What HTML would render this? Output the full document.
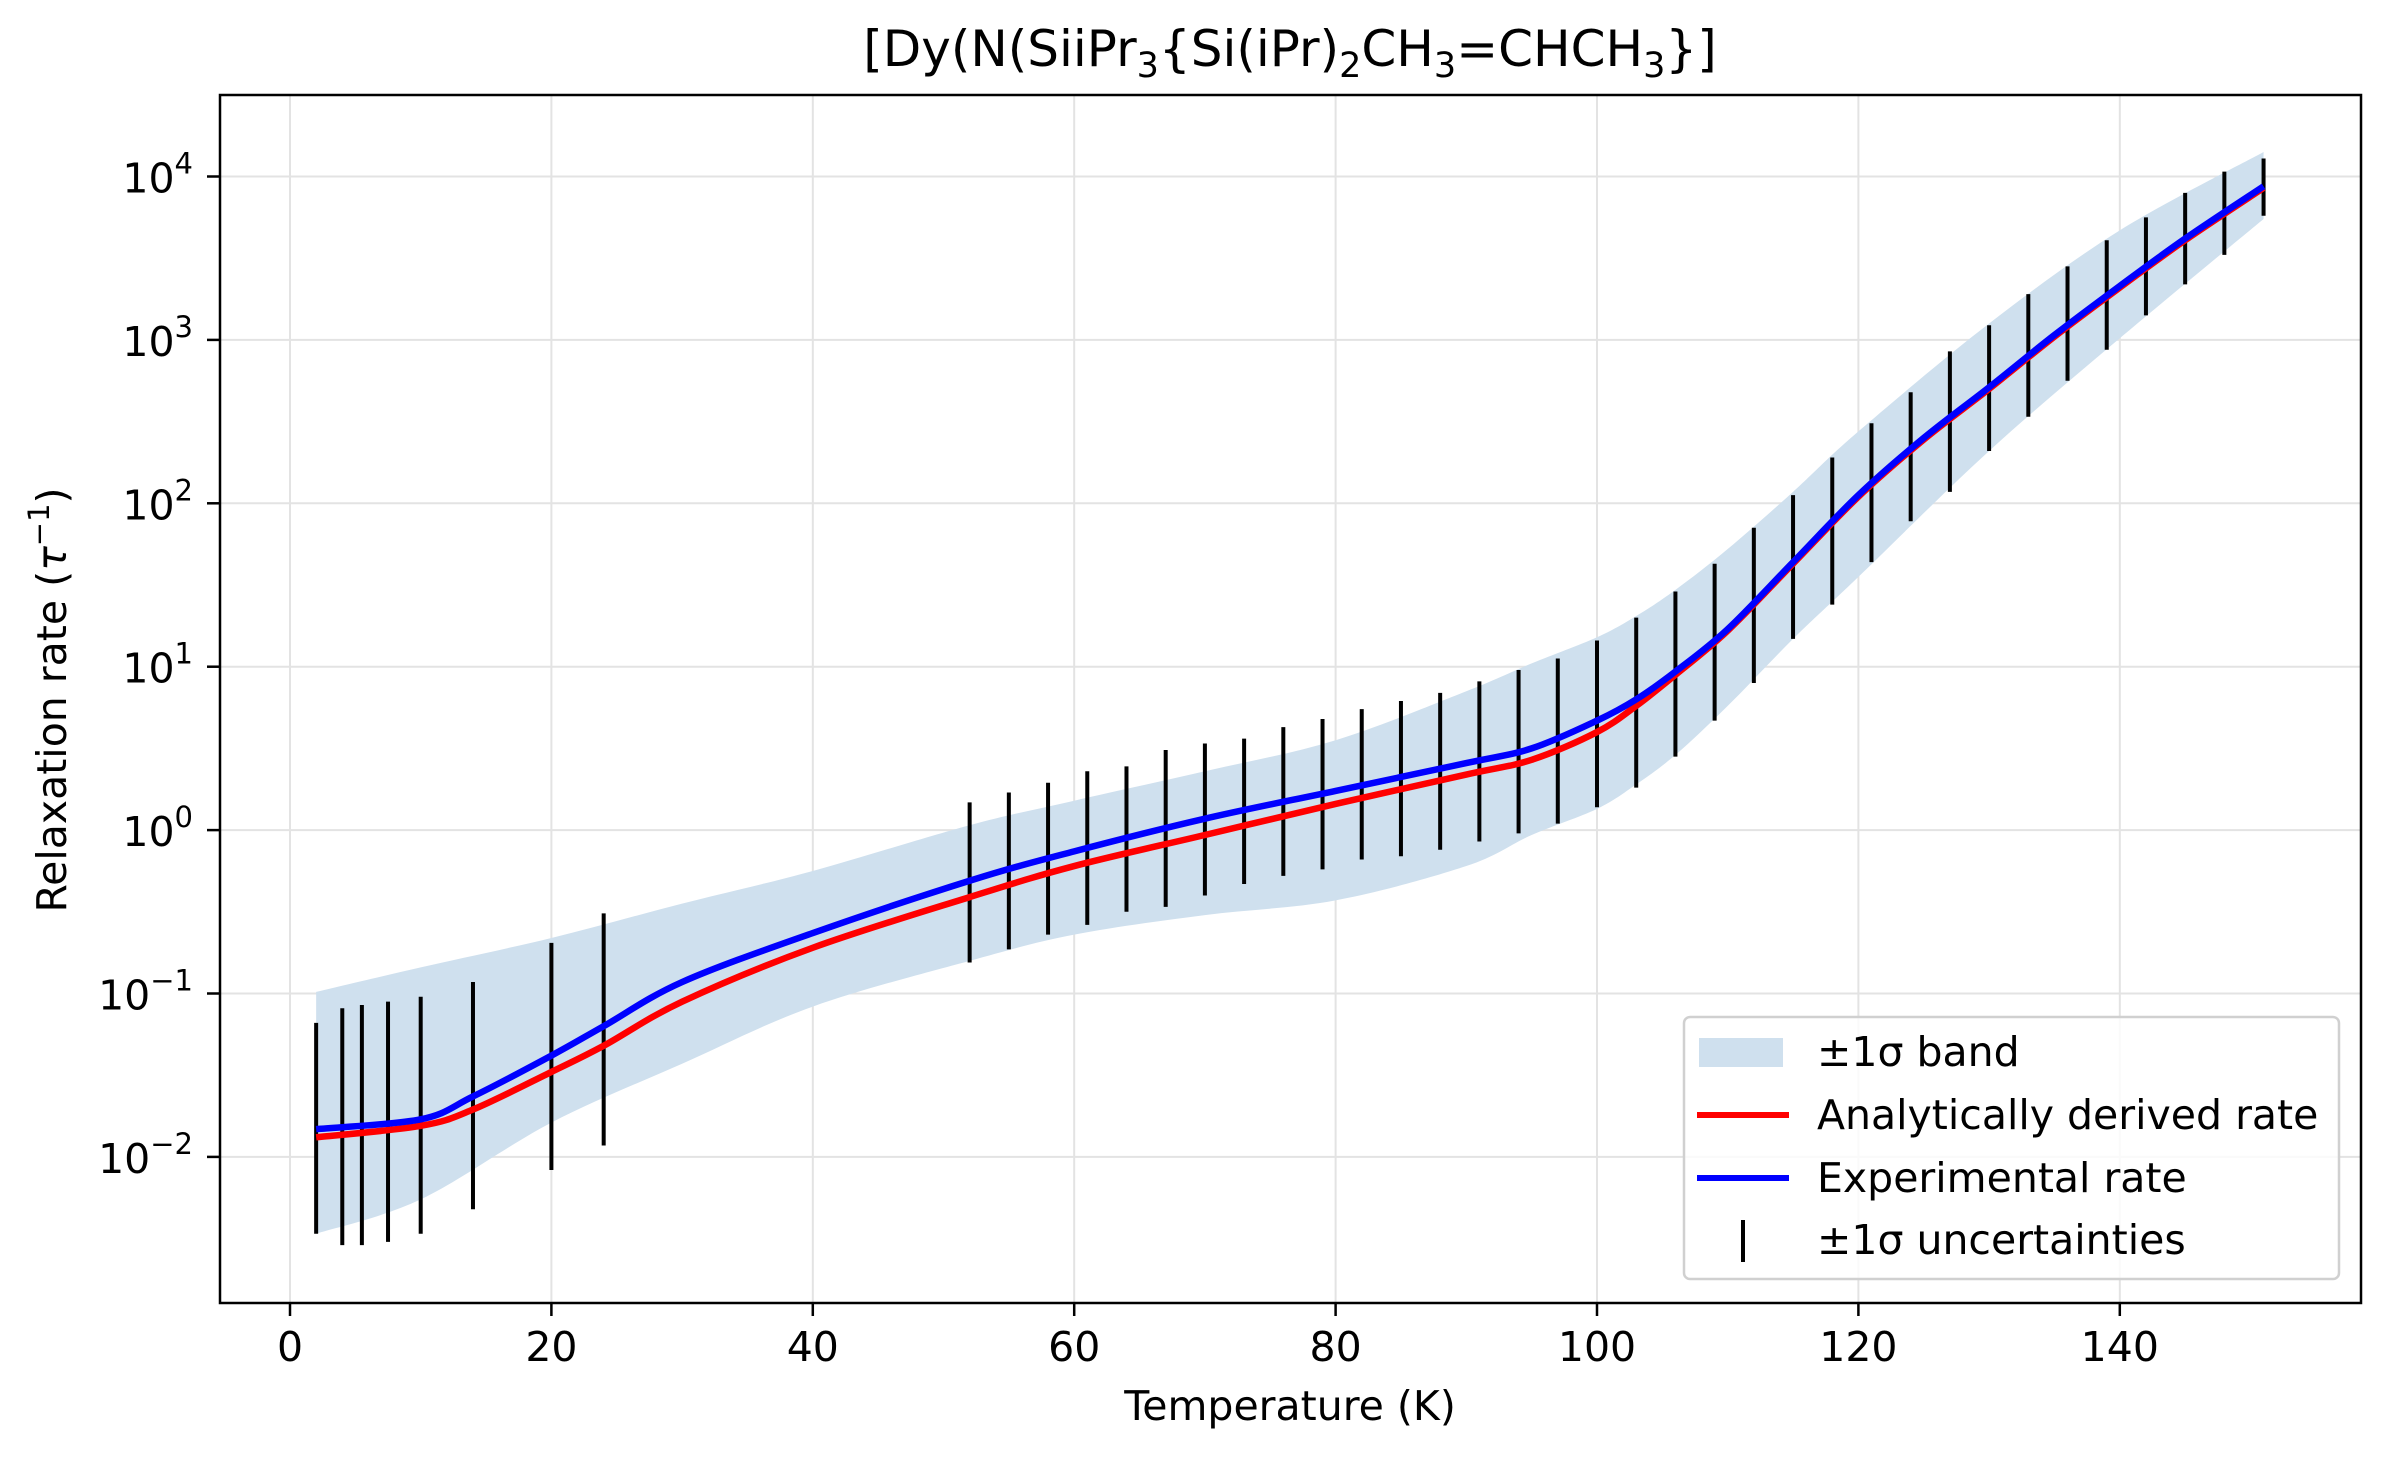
<!DOCTYPE html>
<html><head><meta charset="utf-8"><style>
html,body{margin:0;padding:0;background:#fff}
svg{display:block;font-family:"DejaVu Sans","Liberation Sans",sans-serif}
</style></head><body>
<svg id="chart" width="2392" height="1462" viewBox="0 0 2392 1462" xmlns="http://www.w3.org/2000/svg">
<rect width="2392" height="1462" fill="#fff"/>
<g id="grid"></g>
<g id="band"></g>
<g id="errs"></g>
<g id="lines"></g>
<rect x="220" y="95" width="2141" height="1208" fill="none" stroke="#000" stroke-width="2.5"/>
<g id="ticks" font-size="41"></g>
<text x="1290" y="66" text-anchor="middle" font-size="50">[Dy(N(SiiPr<tspan font-size="35" dy="11">3</tspan><tspan dy="-11">{Si(iPr)</tspan><tspan font-size="35" dy="11">2</tspan><tspan dy="-11">CH</tspan><tspan font-size="35" dy="11">3</tspan><tspan dy="-11">=CHCH</tspan><tspan font-size="35" dy="11">3</tspan><tspan dy="-11">}]</tspan></text>
<text x="1290" y="1420" text-anchor="middle" font-size="41">Temperature (K)</text>
<text transform="translate(66,700) rotate(-90)" text-anchor="middle" font-size="41">Relaxation rate (<tspan font-style="italic">τ</tspan><tspan font-size="29" dy="-17">−1</tspan><tspan dy="17">)</tspan></text>
<g>
<rect x="1684" y="1017" width="655" height="262" rx="6" fill="#fff" fill-opacity="0.8" stroke="#d0d0d0" stroke-width="2.5"/>
<rect x="1699" y="1038" width="84" height="29" fill="#cfe0ee"/>
<text x="1817" y="1066" font-size="41">±1σ band</text>
<line x1="1697" y1="1115" x2="1789" y2="1115" stroke="#f00" stroke-width="6"/>
<text x="1817" y="1129" font-size="41">Analytically derived rate</text>
<line x1="1697" y1="1178" x2="1789" y2="1178" stroke="#00f" stroke-width="6"/>
<text x="1817" y="1192" font-size="41">Experimental rate</text>
<line x1="1743" y1="1220" x2="1743" y2="1262" stroke="#000" stroke-width="4"/>
<text x="1817" y="1254" font-size="41">±1σ uncertainties</text>
</g>
</svg>
<script>
// data (log10 of rate)
const curveT = [2,10,14,20,24,30,40,52,60,70,80,90,95,100,103,106,110,115,120,125,130,135,140,145,151];
const expLog = [-1.83,-1.77,-1.63,-1.38,-1.2,-0.93,-0.63,-0.31,-0.13,0.07,0.24,0.41,0.5,0.67,0.8,0.97,1.23,1.64,2.05,2.40,2.71,3.03,3.33,3.62,3.94];
const anaLog = [-1.88,-1.81,-1.71,-1.48,-1.32,-1.05,-0.72,-0.41,-0.22,-0.03,0.16,0.34,0.43,0.60,0.76,0.95,1.22,1.63,2.04,2.39,2.70,3.02,3.32,3.61,3.93];
const bandT = [2,10,20,30,40,52,60,70,80,90,95,100,103,106,110,115,120,130,140,151];
const bandUpperLog = [-0.99,-0.84,-0.66,-0.45,-0.25,0.03,0.18,0.36,0.55,0.85,1.02,1.18,1.31,1.47,1.72,2.07,2.44,3.10,3.67,4.15];
const bandLowerLog = [-2.47,-2.26,-1.79,-1.43,-1.08,-0.80,-0.64,-0.52,-0.43,-0.22,-0.03,0.13,0.28,0.46,0.76,1.17,1.55,2.32,3.01,3.74];
const errT = [2,4,5.5,7.5,10,14,20,24,52,55,58,61,64,67,70,73,76,79,82,85,88,91,94,97,100,103,106,109,112,115,118,121,124,127,130,133,136,139,142,145,148,151];
const errHiLog = [-1.18,-1.09,-1.07,-1.05,-1.02,-0.93,-0.69,-0.51,0.17,0.23,0.29,0.36,0.39,0.49,0.53,0.56,0.63,0.68,0.74,0.79,0.84,0.91,0.98,1.05,1.16,1.30,1.46,1.63,1.85,2.05,2.28,2.49,2.68,2.93,3.09,3.28,3.45,3.61,3.75,3.90,4.03,4.11];
const errLoLog = [-2.47,-2.54,-2.54,-2.52,-2.47,-2.32,-2.08,-1.93,-0.81,-0.73,-0.64,-0.58,-0.50,-0.47,-0.40,-0.33,-0.28,-0.24,-0.18,-0.16,-0.12,-0.07,-0.02,0.04,0.14,0.26,0.45,0.67,0.90,1.17,1.38,1.64,1.89,2.07,2.32,2.53,2.75,2.94,3.15,3.34,3.52,3.76];
const xTicks = [0,20,40,60,80,100,120,140];
const yTickExps = [-2,-1,0,1,2,3,4];

const NS="http://www.w3.org/2000/svg";
const X = t => 290 + (t-0)*13.07;
const Y = lg => 176.5 + (4-lg)*163.4;
function mk(tag, attrs, parent){const e=document.createElementNS(NS,tag);for(const k in attrs)e.setAttribute(k,attrs[k]);parent.appendChild(e);return e;}
function smooth(pts){
  let d="M"+pts[0][0]+","+pts[0][1];
  for(let i=0;i<pts.length-1;i++){
    const p0=pts[Math.max(i-1,0)],p1=pts[i],p2=pts[i+1],p3=pts[Math.min(i+2,pts.length-1)];
    const c1=[p1[0]+(p2[0]-p0[0])/6,p1[1]+(p2[1]-p0[1])/6];
    const c2=[p2[0]-(p3[0]-p1[0])/6,p2[1]-(p3[1]-p1[1])/6];
    d+=" C"+c1.join(",")+" "+c2.join(",")+" "+p2.join(",");
  }
  return d;
}
const grid=document.getElementById('grid'), ticks=document.getElementById('ticks');
xTicks.forEach(t=>{
  const g=mk('line',{x1:X(t),x2:X(t),y1:95,y2:1303,stroke:'#e3e3e3','stroke-width':2},grid);
  
  
  const tk=mk('line',{x1:X(t),x2:X(t),y1:1303,y2:1316,stroke:'#000','stroke-width':2.5},ticks);
  
  
  const tx=mk('text',{x:X(t),y:1361,'text-anchor':'middle'},ticks);
  tx.textContent=t;
  
  
});
yTickExps.forEach(e=>{
  const g=mk('line',{x1:220,x2:2361,y1:Y(e),y2:Y(e),stroke:'#e3e3e3','stroke-width':2},grid);
  
  
  const tk=mk('line',{x1:207,x2:220,y1:Y(e),y2:Y(e),stroke:'#000','stroke-width':2.5},ticks);
  
  
  const tx=mk('text',{x:193,y:Y(e)+16,'text-anchor':'end'},ticks);
  
  
  const a=document.createElementNS(NS,'tspan');a.textContent='10';tx.appendChild(a);
  const b=document.createElementNS(NS,'tspan');b.setAttribute('font-size','29');b.setAttribute('dy','-19');b.textContent=(e<0?'−':'')+Math.abs(e);tx.appendChild(b);
});
// band
const up=bandT.map((t,i)=>[X(t),Y(bandUpperLog[i])]);
const lo=bandT.map((t,i)=>[X(t),Y(bandLowerLog[i])]).reverse();
const lod=smooth(lo).replace(/^M/,' L');
const band=mk('path',{d:smooth(up)+lod+' Z',fill:'#cfe0ee',stroke:'none'},document.getElementById('band'));


// error bars
const errs=document.getElementById('errs');
errT.forEach((t,i)=>{
  const l=mk('line',{x1:X(t),x2:X(t),y1:Y(errHiLog[i]),y2:Y(errLoLog[i]),stroke:'#000','stroke-width':4},errs);
  
  
});
// lines
const lines=document.getElementById('lines');
const red=mk('path',{d:smooth(curveT.map((t,i)=>[X(t),Y(anaLog[i])])),fill:'none',stroke:'#f00','stroke-width':6.5},lines);


const blue=mk('path',{d:smooth(curveT.map((t,i)=>[X(t),Y(expLog[i])])),fill:'none',stroke:'#00f','stroke-width':6.5},lines);


</script>
</body></html>
